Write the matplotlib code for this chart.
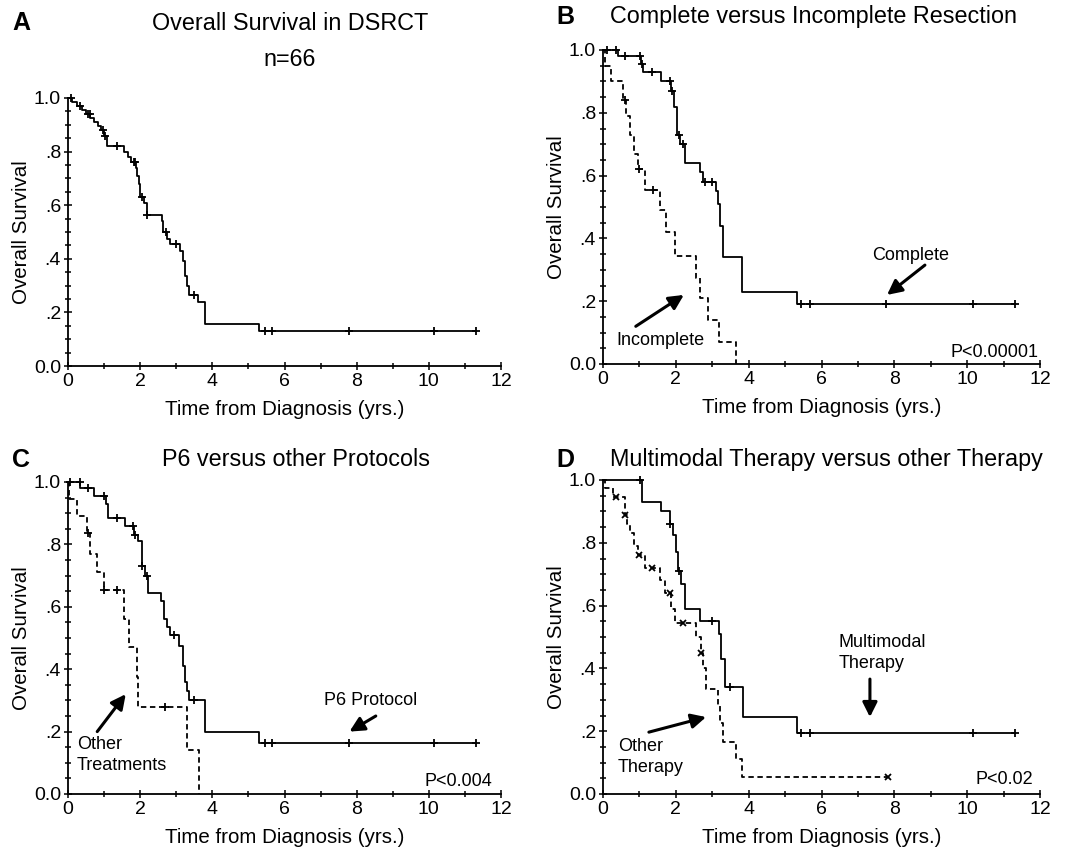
import numpy as np
import matplotlib
matplotlib.use("Agg")
import matplotlib.pyplot as plt
from matplotlib.ticker import MultipleLocator

plt.rcParams['font.family'] = ['Liberation Sans', 'DejaVu Sans']

# ---- datos (tiempo en anhos, supervivencia) ----
# A: todos los pacientes
a_t = [0, 0.12, 0.25, 0.4, 0.5, 0.62, 0.72, 0.82, 0.92, 1.0, 1.08, 1.55, 1.65, 1.75, 1.88, 1.92,
       1.96, 2.0, 2.1, 2.2, 2.6, 2.64, 2.74, 2.83, 3.1, 3.18, 3.24, 3.3, 3.35, 3.6, 3.8, 5.3, 11.3]
a_s = [1.0, 0.985, 0.97, 0.955, 0.94, 0.925, 0.91, 0.895, 0.88, 0.86, 0.82, 0.80, 0.78, 0.76, 0.74, 0.71,
       0.68, 0.63, 0.61, 0.565, 0.54, 0.50, 0.475, 0.455, 0.43, 0.39, 0.335, 0.30, 0.265, 0.24, 0.155, 0.13, 0.13]
a_cens = [0.08, 0.34, 0.55, 0.6, 0.97, 1.02, 1.35, 1.82, 1.86, 2.05, 2.2, 2.72, 3.0, 3.5,
          5.45, 5.66, 7.78, 10.15, 11.3]

# B: reseccion completa / incompleta
bc_t = [0, 0.4, 1.05, 1.1, 1.6, 1.88, 1.94, 2.04, 2.12, 2.24, 2.67, 2.75, 3.11, 3.16, 3.22, 3.3, 3.83, 5.34, 11.3]
bc_s = [1.0, 0.98, 0.955, 0.93, 0.90, 0.87, 0.82, 0.73, 0.70, 0.64, 0.61, 0.58, 0.55, 0.51, 0.44, 0.34, 0.23, 0.19, 0.19]
bc_cens = [0.1, 0.35, 0.6, 1.02, 1.07, 1.35, 1.83, 1.9, 2.1, 2.2, 2.8, 3.0, 5.45, 5.68, 7.78, 10.15, 11.3]
bi_t = [0, 0.05, 0.23, 0.55, 0.64, 0.73, 0.84, 0.96, 1.14, 1.56, 1.72, 1.97, 2.56, 2.67, 2.88, 3.19, 3.64]
bi_s = [1.0, 0.95, 0.90, 0.84, 0.79, 0.73, 0.67, 0.62, 0.555, 0.49, 0.42, 0.345, 0.275, 0.21, 0.14, 0.07, 0.0]
bi_cens = [0.6, 1.0, 1.38]

# C: P6 vs otros protocolos
cp_t = [0, 0.34, 0.73, 1.06, 1.12, 1.59, 1.82, 1.93, 2.05, 2.14, 2.23, 2.57, 2.65, 2.73, 2.83, 3.09,
        3.18, 3.23, 3.29, 3.34, 3.8, 5.3, 11.3]
cp_s = [1.0, 0.98, 0.955, 0.93, 0.885, 0.86, 0.83, 0.81, 0.73, 0.70, 0.645, 0.62, 0.56, 0.535, 0.51, 0.475,
        0.41, 0.36, 0.33, 0.30, 0.20, 0.165, 0.165]
cp_cens = [0.05, 0.33, 0.55, 1.0, 1.35, 1.8, 1.86, 2.05, 2.2, 2.95, 3.5, 5.45, 5.66, 7.78, 10.15, 11.3]
co_t = [0, 0.03, 0.25, 0.54, 0.6, 0.8, 0.99, 1.54, 1.68, 1.91, 1.95, 3.29, 3.63]
co_s = [1.0, 0.945, 0.89, 0.835, 0.77, 0.71, 0.655, 0.56, 0.47, 0.375, 0.28, 0.14, 0.0]
co_cens = [0.55, 1.0, 1.35, 2.7]

# D: multimodal vs otra terapia
dm_t = [0, 1.07, 1.58, 1.83, 1.92, 2.0, 2.06, 2.15, 2.24, 2.67, 3.19, 3.25, 3.34, 3.85, 5.34, 11.3]
dm_s = [1.0, 0.93, 0.90, 0.86, 0.825, 0.77, 0.71, 0.67, 0.59, 0.55, 0.51, 0.43, 0.34, 0.245, 0.195, 0.195]
dm_cens = [1.02, 1.85, 2.1, 3.0, 3.5, 5.45, 5.68, 10.15, 11.3]
do_t = [0, 0.05, 0.28, 0.6, 0.65, 0.73, 0.84, 0.96, 1.14, 1.56, 1.7, 1.88, 1.97, 2.56, 2.7, 2.75,
        2.84, 3.16, 3.21, 3.3, 3.64, 3.82, 7.83]
do_s = [1.0, 0.975, 0.945, 0.89, 0.86, 0.83, 0.79, 0.76, 0.72, 0.68, 0.64, 0.59, 0.545, 0.50, 0.45, 0.40,
        0.335, 0.28, 0.225, 0.165, 0.11, 0.055, 0.055]
do_cens = [0.35, 0.6, 1.0, 1.35, 1.85, 2.2, 2.7, 7.83]

y_ticklabels = ['0.0', '.2', '.4', '.6', '.8', '1.0']
x_ticks = [0, 2, 4, 6, 8, 10, 12]


def curva(ax, t, s, cens, dashed=False, marker='+'):
    ls = (0, (3, 2)) if dashed else '-'
    ax.step(t, s, where='post', color='black', lw=1.3, ls=ls, clip_on=False)
    t = np.asarray(t)
    idx = np.searchsorted(t, cens, side='right') - 1
    ys = np.asarray(s)[idx]
    ms = 4 if marker == 'x' else 6
    ax.plot(cens, ys, ls='none', marker=marker, color='black', ms=ms, mew=1.3, clip_on=False)


def ejes(ax):
    ax.set_xlim(0, 12)
    ax.set_ylim(0, 1.0)
    for side in ['top', 'right']:
        ax.spines[side].set_visible(False)
    for side in ['left', 'bottom']:
        ax.spines[side].set_linewidth(1.3)
    ax.set_xticks(x_ticks)
    ax.set_yticks(np.linspace(0, 1, 6))
    ax.set_yticklabels(y_ticklabels)
    ax.xaxis.set_minor_locator(MultipleLocator(1))
    ax.yaxis.set_minor_locator(MultipleLocator(0.05))
    ax.tick_params(which='both', direction='inout', labelsize=14, width=1.1)
    ax.tick_params(which='major', length=6, pad=2)
    ax.tick_params(which='minor', length=4)
    ax.set_xlabel('Time from Diagnosis (yrs.)', fontsize=14.8, labelpad=7)
    ax.set_ylabel('Overall Survival', fontsize=14.8, labelpad=2)


flecha = dict(arrowstyle='-|>', lw=2.2, mutation_scale=22, color='black', shrinkA=0, shrinkB=0)

fig = plt.figure(figsize=(10.66, 8.5), dpi=100)
W, H = 1066, 850


def caja(l, r, top, bot):
    return [l / W, 1 - bot / H, (r - l) / W, (bot - top) / H]


axA = fig.add_axes(caja(68, 501, 98, 366))
axB = fig.add_axes(caja(603, 1040, 50, 364))
axC = fig.add_axes(caja(68, 501, 482, 794))
axD = fig.add_axes(caja(603, 1040, 480, 794))

# A
curva(axA, a_t, a_s, a_cens)
ejes(axA)

# B
curva(axB, bc_t, bc_s, bc_cens)
curva(axB, bi_t, bi_s, bi_cens, dashed=True)
ejes(axB)
axB.text(8.46, 0.347, 'Complete', fontsize=13, ha='center', va='center')
axB.annotate('', xy=(7.8, 0.22), xytext=(8.84, 0.315), arrowprops=flecha)
axB.text(1.57, 0.076, 'Incomplete', fontsize=13, ha='center', va='center')
axB.annotate('', xy=(2.22, 0.22), xytext=(0.9, 0.12), arrowprops=flecha)
axB.text(11.95, 0.038, 'P<0.00001', fontsize=13, ha='right', va='center')

# C
curva(axC, cp_t, cp_s, cp_cens)
curva(axC, co_t, co_s, co_cens, dashed=True)
ejes(axC)
axC.text(8.4, 0.30, 'P6 Protocol', fontsize=13, ha='center', va='center')
axC.annotate('', xy=(7.8, 0.20), xytext=(8.53, 0.25), arrowprops=flecha)
axC.text(0.25, 0.125, 'Other\nTreatments', fontsize=13, ha='left', va='center', linespacing=1.3)
axC.annotate('', xy=(1.6, 0.32), xytext=(0.81, 0.2), arrowprops=flecha)
axC.text(11.75, 0.04, 'P<0.004', fontsize=13, ha='right', va='center')

# D
curva(axD, dm_t, dm_s, dm_cens)
curva(axD, do_t, do_s, do_cens, dashed=True, marker='x')
ejes(axD)
axD.text(6.48, 0.45, 'Multimodal\nTherapy', fontsize=13, ha='left', va='center', linespacing=1.3)
axD.annotate('', xy=(7.33, 0.245), xytext=(7.33, 0.366), arrowprops=flecha)
axD.text(0.41, 0.118, 'Other\nTherapy', fontsize=13, ha='left', va='center', linespacing=1.3)
axD.annotate('', xy=(2.83, 0.245), xytext=(1.26, 0.197), arrowprops=flecha)
axD.text(11.8, 0.045, 'P<0.02', fontsize=13, ha='right', va='center')

# titulos y letras
fig.text(12 / W, 1 - 23 / H, 'A', fontsize=18, fontweight='bold', va='center')
fig.text(290 / W, 1 - 24 / H, 'Overall Survival in DSRCT', fontsize=16.8, ha='center', va='center')
fig.text(290 / W, 1 - 60 / H, 'n=66', fontsize=16.8, ha='center', va='center')
fig.text(556 / W, 1 - 17 / H, 'B', fontsize=18, fontweight='bold', va='center')
fig.text(813 / W, 1 - 17 / H, 'Complete versus Incomplete Resection', fontsize=16.8, ha='center', va='center')
fig.text(12 / W, 1 - 460 / H, 'C', fontsize=18, fontweight='bold', va='center')
fig.text(296 / W, 1 - 460 / H, 'P6 versus other Protocols', fontsize=16.8, ha='center', va='center')
fig.text(556 / W, 1 - 460 / H, 'D', fontsize=18, fontweight='bold', va='center')
fig.text(826 / W, 1 - 460 / H, 'Multimodal Therapy versus other Therapy', fontsize=16.8, ha='center', va='center')

fig.savefig('out.png', dpi=100)
